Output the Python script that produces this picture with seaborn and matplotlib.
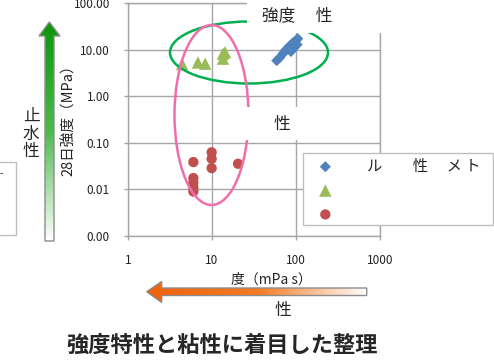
import numpy as np
import pandas as pd
import seaborn as sns
import matplotlib.pyplot as plt
from matplotlib.patches import Ellipse, Polygon, Rectangle
from matplotlib.colors import LinearSegmentedColormap
from matplotlib.ticker import FixedLocator, FixedFormatter

# datos
blue_x = [59, 64, 70, 78, 85, 92, 100, 105, 87, 95, 103, 74]
blue_y = [5.8, 6.7, 8.2, 10.5, 12.2, 14.1, 15.6, 17.2, 9.1, 11.0, 12.8, 9.3]
green_x = [4.4, 6.8, 8.3, 13.5, 13.5, 14.3]
green_y = [4.9, 5.3, 5.0, 8.2, 6.4, 8.8]
red_x = [6.0, 6.0, 6.0, 6.0, 6.0, 9.9, 9.9, 9.9, 20.4]
red_y = [0.0386, 0.0175, 0.0140, 0.0110, 0.0090, 0.0625, 0.0454, 0.0286, 0.0355]

x_ticks = [1, 10, 100, 1000]
x_tick_labels = ['1', '10', '100', '1000']
y_ticks = [0.001, 0.01, 0.1, 1, 10, 100]
y_tick_labels = ['0.00', '0.01', '0.10', '1.00', '10.00', '100.00']
legend_labels = ['ル　　性　 メ ト', ' ', ' ']

sns.set_style("white")
plt.rcParams['font.family'] = ['Noto Sans CJK JP', 'DejaVu Sans']

W, H = 494, 360
fig = plt.figure(figsize=(W / 100, H / 100), dpi=100)
ax = fig.add_axes([128 / W, 1 - 236 / H, 252 / W, 233 / H])

grid_col = '#a6a6a6'
df_b = pd.DataFrame({'x': blue_x, 'y': blue_y})
df_g = pd.DataFrame({'x': green_x, 'y': green_y})
df_r = pd.DataFrame({'x': red_x, 'y': red_y})
sns.scatterplot(data=df_b, x='x', y='y', marker='D', s=32, color='#4f81bd', edgecolor='none', ax=ax, zorder=3)
sns.scatterplot(data=df_g, x='x', y='y', marker='^', s=80, color='#9bbb59', edgecolor='none', ax=ax, zorder=3)
sns.scatterplot(data=df_r, x='x', y='y', marker='o', s=55, color='#c0504d', edgecolor='none', ax=ax, zorder=3)

ax.set_xscale('log')
ax.set_yscale('log')
ax.set_xlim(1, 1000)
ax.set_ylim(0.001, 100)
ax.xaxis.set_major_locator(FixedLocator(x_ticks))
ax.xaxis.set_major_formatter(FixedFormatter(x_tick_labels))
ax.yaxis.set_major_locator(FixedLocator(y_ticks))
ax.yaxis.set_major_formatter(FixedFormatter(y_tick_labels))
ax.xaxis.set_minor_locator(FixedLocator([]))
ax.yaxis.set_minor_locator(FixedLocator([]))
ax.grid(True, color=grid_col, lw=1)
for s in ax.spines.values():
    s.set_color(grid_col)
    s.set_linewidth(1)
ax.tick_params(axis='both', direction='out', length=3, width=1, color=grid_col,
               pad=10, labelsize=8.5, labelcolor='#222222', bottom=True, left=True)
ax.set_xlabel('')
ax.set_ylabel('28日強度（MPa）', fontsize=10.5, color='#222222')
ax.yaxis.set_label_coords((76 - 128) / 252, (236 - 117) / 233)

# capa superior en pixeles
ov = fig.add_axes([0, 0, 1, 1])
ov.set_xlim(0, W)
ov.set_ylim(H, 0)
ov.axis('off')
ov.set_zorder(5)

ov.add_patch(Ellipse((249, 52.5), 158, 62, fill=False, edgecolor='#00b050', lw=1.8, zorder=2))
ov.add_patch(Ellipse((211.5, 115), 74, 180, fill=False, edgecolor='#f06eaa', lw=1.8, zorder=2))

# cajas blancas
ov.add_patch(Rectangle((247, -1), 135, 34, facecolor='white', edgecolor='none', zorder=3))
ov.add_patch(Rectangle((243, 107), 134, 33, facecolor='white', edgecolor='none', zorder=3))
ov.add_patch(Rectangle((303, 153), 190, 72, facecolor='white', edgecolor='#bfbfbf', lw=1, zorder=3))
ov.add_patch(Rectangle((-2, 162), 18, 73, facecolor='white', edgecolor='#bfbfbf', lw=1, zorder=3))
ov.text(0, 174, '-', fontsize=7, ha='left', va='center', zorder=4)

ov.text(262, 16, '強度　 性', fontsize=12, ha='left', va='center', zorder=4)
ov.text(282, 124, '性', fontsize=12, ha='center', va='center', zorder=4)
ov.text(283, 310, '性', fontsize=12, ha='center', va='center', zorder=4)
ov.text(271, 280, '度（mPa s）', fontsize=10, ha='center', va='center', zorder=4)
ov.text(31, 134, '止\n水\n性', fontsize=12, ha='center', va='center', linespacing=1.05, zorder=4)
ov.text(222, 345, '強度特性と粘性に着目した整理', fontsize=16, fontweight='bold',
        ha='center', va='center', zorder=4)

leg = ov.legend(ax.collections[:3], legend_labels, loc='upper left',
                bbox_to_anchor=(307, 147), bbox_transform=ov.transData,
                frameon=False, fontsize=11, handlelength=1.0, handletextpad=2.2,
                labelspacing=0.45, borderpad=0.2, markerscale=1.0)
leg.set_zorder(6)

# flecha verde vertical con degradado
g_verts = [(49.3, 22), (60, 36), (54, 36), (54, 241), (45, 241), (45, 36), (39, 36)]
g_poly = Polygon(g_verts, closed=True, facecolor='none', edgecolor='#8c8c8c', lw=1, zorder=4)
ov.add_patch(g_poly)
g_cmap = LinearSegmentedColormap.from_list('g', ['#0a960a', '#4dba4d', '#ffffff'])
g_im = ov.imshow(np.linspace(0, 1, 256).reshape(-1, 1), cmap=g_cmap, aspect='auto',
                 extent=(39, 60, 241, 22), zorder=3.5)
g_im.set_clip_path(g_poly)

# flecha naranja horizontal con degradado
o_verts = [(146.7, 291.7), (161.7, 281.5), (161.7, 288), (366.7, 288), (366.7, 295.5),
           (161.7, 295.5), (161.7, 302.5)]
o_poly = Polygon(o_verts, closed=True, facecolor='none', edgecolor='#8c8c8c', lw=1, zorder=4)
ov.add_patch(o_poly)
o_cmap = LinearSegmentedColormap.from_list('o', [(0, '#f0620c'), (0.5, '#f47a22'), (1, '#ffffff')])
o_im = ov.imshow(np.linspace(0, 1, 256).reshape(1, -1), cmap=o_cmap, aspect='auto',
                 extent=(146, 367, 303, 281), zorder=3.5)
o_im.set_clip_path(o_poly)

ov.set_xlim(0, W)
ov.set_ylim(H, 0)

fig.savefig('out.png', dpi=100)
